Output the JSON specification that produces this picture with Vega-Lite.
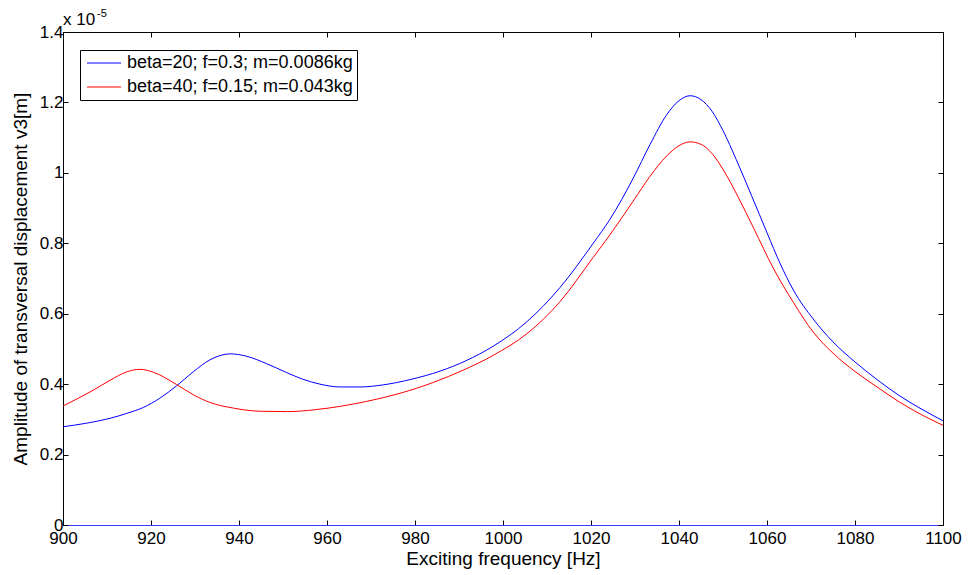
{
  "$schema": "https://vega.github.io/schema/vega-lite/v6.json",
  "autosize": "none",
  "width": 880,
  "height": 493,
  "padding": {"left": 63, "top": 32, "right": 25, "bottom": 50},
  "background": "white",
  "config": {
    "font": "Liberation Sans",
    "view": {"stroke": "black", "strokeWidth": 1},
    "axis": {"grid": false, "labelFont": "Liberation Sans", "titleFont": "Liberation Sans", "labelFontSize": 17, "titleFontSize": 19, "labelColor": "black", "titleColor": "black", "titleFontWeight": "normal", "domainColor": "black", "tickColor": "black"}
  },
  "datasets": {
    "curves": [
      {"f": 900, "amp": 0.279, "series": "beta=20; f=0.3; m=0.0086kg"},
      {"f": 905.3, "amp": 0.289, "series": "beta=20; f=0.3; m=0.0086kg"},
      {"f": 910.7, "amp": 0.303, "series": "beta=20; f=0.3; m=0.0086kg"},
      {"f": 914.5, "amp": 0.317, "series": "beta=20; f=0.3; m=0.0086kg"},
      {"f": 918.3, "amp": 0.334, "series": "beta=20; f=0.3; m=0.0086kg"},
      {"f": 922, "amp": 0.36, "series": "beta=20; f=0.3; m=0.0086kg"},
      {"f": 925.8, "amp": 0.395, "series": "beta=20; f=0.3; m=0.0086kg"},
      {"f": 929.6, "amp": 0.435, "series": "beta=20; f=0.3; m=0.0086kg"},
      {"f": 933.4, "amp": 0.469, "series": "beta=20; f=0.3; m=0.0086kg"},
      {"f": 938, "amp": 0.486, "series": "beta=20; f=0.3; m=0.0086kg"},
      {"f": 941.8, "amp": 0.479, "series": "beta=20; f=0.3; m=0.0086kg"},
      {"f": 946.3, "amp": 0.458, "series": "beta=20; f=0.3; m=0.0086kg"},
      {"f": 950.8, "amp": 0.433, "series": "beta=20; f=0.3; m=0.0086kg"},
      {"f": 954.5, "amp": 0.414, "series": "beta=20; f=0.3; m=0.0086kg"},
      {"f": 958.4, "amp": 0.400, "series": "beta=20; f=0.3; m=0.0086kg"},
      {"f": 963, "amp": 0.392, "series": "beta=20; f=0.3; m=0.0086kg"},
      {"f": 967.5, "amp": 0.392, "series": "beta=20; f=0.3; m=0.0086kg"},
      {"f": 972.8, "amp": 0.398, "series": "beta=20; f=0.3; m=0.0086kg"},
      {"f": 978.9, "amp": 0.413, "series": "beta=20; f=0.3; m=0.0086kg"},
      {"f": 985.7, "amp": 0.437, "series": "beta=20; f=0.3; m=0.0086kg"},
      {"f": 991.5, "amp": 0.466, "series": "beta=20; f=0.3; m=0.0086kg"},
      {"f": 997.8, "amp": 0.508, "series": "beta=20; f=0.3; m=0.0086kg"},
      {"f": 1005.4, "amp": 0.577, "series": "beta=20; f=0.3; m=0.0086kg"},
      {"f": 1013, "amp": 0.675, "series": "beta=20; f=0.3; m=0.0086kg"},
      {"f": 1020.5, "amp": 0.8, "series": "beta=20; f=0.3; m=0.0086kg"},
      {"f": 1024.3, "amp": 0.868, "series": "beta=20; f=0.3; m=0.0086kg"},
      {"f": 1029.6, "amp": 0.985, "series": "beta=20; f=0.3; m=0.0086kg"},
      {"f": 1033.4, "amp": 1.08, "series": "beta=20; f=0.3; m=0.0086kg"},
      {"f": 1037.2, "amp": 1.165, "series": "beta=20; f=0.3; m=0.0086kg"},
      {"f": 1040, "amp": 1.205, "series": "beta=20; f=0.3; m=0.0086kg"},
      {"f": 1042.5, "amp": 1.219, "series": "beta=20; f=0.3; m=0.0086kg"},
      {"f": 1045, "amp": 1.208, "series": "beta=20; f=0.3; m=0.0086kg"},
      {"f": 1047.5, "amp": 1.175, "series": "beta=20; f=0.3; m=0.0086kg"},
      {"f": 1050, "amp": 1.12, "series": "beta=20; f=0.3; m=0.0086kg"},
      {"f": 1053, "amp": 1.038, "series": "beta=20; f=0.3; m=0.0086kg"},
      {"f": 1056.5, "amp": 0.935, "series": "beta=20; f=0.3; m=0.0086kg"},
      {"f": 1060, "amp": 0.83, "series": "beta=20; f=0.3; m=0.0086kg"},
      {"f": 1063, "amp": 0.742, "series": "beta=20; f=0.3; m=0.0086kg"},
      {"f": 1066, "amp": 0.667, "series": "beta=20; f=0.3; m=0.0086kg"},
      {"f": 1070.5, "amp": 0.585, "series": "beta=20; f=0.3; m=0.0086kg"},
      {"f": 1075, "amp": 0.52, "series": "beta=20; f=0.3; m=0.0086kg"},
      {"f": 1080, "amp": 0.463, "series": "beta=20; f=0.3; m=0.0086kg"},
      {"f": 1085, "amp": 0.413, "series": "beta=20; f=0.3; m=0.0086kg"},
      {"f": 1090, "amp": 0.368, "series": "beta=20; f=0.3; m=0.0086kg"},
      {"f": 1095, "amp": 0.33, "series": "beta=20; f=0.3; m=0.0086kg"},
      {"f": 1100, "amp": 0.296, "series": "beta=20; f=0.3; m=0.0086kg"},
      {"f": 900, "amp": 0.338, "series": "beta=40; f=0.15; m=0.043kg"},
      {"f": 906.9, "amp": 0.383, "series": "beta=40; f=0.15; m=0.043kg"},
      {"f": 910.7, "amp": 0.411, "series": "beta=40; f=0.15; m=0.043kg"},
      {"f": 914.5, "amp": 0.435, "series": "beta=40; f=0.15; m=0.043kg"},
      {"f": 917.5, "amp": 0.442, "series": "beta=40; f=0.15; m=0.043kg"},
      {"f": 920.5, "amp": 0.434, "series": "beta=40; f=0.15; m=0.043kg"},
      {"f": 925.8, "amp": 0.399, "series": "beta=40; f=0.15; m=0.043kg"},
      {"f": 929.6, "amp": 0.370, "series": "beta=40; f=0.15; m=0.043kg"},
      {"f": 933.4, "amp": 0.348, "series": "beta=40; f=0.15; m=0.043kg"},
      {"f": 938.7, "amp": 0.332, "series": "beta=40; f=0.15; m=0.043kg"},
      {"f": 944.8, "amp": 0.323, "series": "beta=40; f=0.15; m=0.043kg"},
      {"f": 951, "amp": 0.322, "series": "beta=40; f=0.15; m=0.043kg"},
      {"f": 957, "amp": 0.327, "series": "beta=40; f=0.15; m=0.043kg"},
      {"f": 963, "amp": 0.337, "series": "beta=40; f=0.15; m=0.043kg"},
      {"f": 969, "amp": 0.351, "series": "beta=40; f=0.15; m=0.043kg"},
      {"f": 976.6, "amp": 0.374, "series": "beta=40; f=0.15; m=0.043kg"},
      {"f": 984.2, "amp": 0.405, "series": "beta=40; f=0.15; m=0.043kg"},
      {"f": 991, "amp": 0.44, "series": "beta=40; f=0.15; m=0.043kg"},
      {"f": 997.8, "amp": 0.482, "series": "beta=40; f=0.15; m=0.043kg"},
      {"f": 1005.4, "amp": 0.543, "series": "beta=40; f=0.15; m=0.043kg"},
      {"f": 1013, "amp": 0.635, "series": "beta=40; f=0.15; m=0.043kg"},
      {"f": 1020.5, "amp": 0.76, "series": "beta=40; f=0.15; m=0.043kg"},
      {"f": 1024.3, "amp": 0.824, "series": "beta=40; f=0.15; m=0.043kg"},
      {"f": 1029.6, "amp": 0.92, "series": "beta=40; f=0.15; m=0.043kg"},
      {"f": 1033.4, "amp": 0.99, "series": "beta=40; f=0.15; m=0.043kg"},
      {"f": 1037.2, "amp": 1.048, "series": "beta=40; f=0.15; m=0.043kg"},
      {"f": 1040, "amp": 1.077, "series": "beta=40; f=0.15; m=0.043kg"},
      {"f": 1042.5, "amp": 1.088, "series": "beta=40; f=0.15; m=0.043kg"},
      {"f": 1045, "amp": 1.081, "series": "beta=40; f=0.15; m=0.043kg"},
      {"f": 1047.5, "amp": 1.055, "series": "beta=40; f=0.15; m=0.043kg"},
      {"f": 1050, "amp": 1.01, "series": "beta=40; f=0.15; m=0.043kg"},
      {"f": 1053.5, "amp": 0.93, "series": "beta=40; f=0.15; m=0.043kg"},
      {"f": 1057, "amp": 0.842, "series": "beta=40; f=0.15; m=0.043kg"},
      {"f": 1061.4, "amp": 0.73, "series": "beta=40; f=0.15; m=0.043kg"},
      {"f": 1066, "amp": 0.632, "series": "beta=40; f=0.15; m=0.043kg"},
      {"f": 1070.5, "amp": 0.548, "series": "beta=40; f=0.15; m=0.043kg"},
      {"f": 1075, "amp": 0.488, "series": "beta=40; f=0.15; m=0.043kg"},
      {"f": 1080, "amp": 0.436, "series": "beta=40; f=0.15; m=0.043kg"},
      {"f": 1085, "amp": 0.392, "series": "beta=40; f=0.15; m=0.043kg"},
      {"f": 1090, "amp": 0.350, "series": "beta=40; f=0.15; m=0.043kg"},
      {"f": 1095, "amp": 0.314, "series": "beta=40; f=0.15; m=0.043kg"},
      {"f": 1100, "amp": 0.283, "series": "beta=40; f=0.15; m=0.043kg"}
    ],
    "note": [{"t": "x 10", "e": "-5"}]
  },
  "resolve": {"axis": {"x": "independent", "y": "independent"}},
  "layer": [
    {
      "data": {"name": "curves"},
      "mark": {"type": "line", "strokeWidth": 1, "interpolate": "monotone", "clip": true},
      "encoding": {
        "x": {"field": "f", "type": "quantitative", "scale": {"domain": [900, 1100], "nice": false, "zero": false},
          "axis": {"title": "Exciting frequency [Hz]", "values": [900, 920, 940, 960, 980, 1000, 1020, 1040, 1060, 1080, 1100], "format": "d", "tickSize": -5, "labelPadding": 10, "titlePadding": 3, "domainColor": "#3a3aff", "labelFlush": false}},
        "y": {"field": "amp", "type": "quantitative", "scale": {"domain": [0, 1.4], "nice": false},
          "axis": {"title": "Amplitude of transversal displacement v3[m]", "values": [0, 0.2, 0.4, 0.6, 0.8, 1, 1.2, 1.4], "format": "~g", "tickSize": -5, "labelPadding": 5, "titlePadding": 9, "labelFlush": false}},
        "color": {"field": "series", "type": "nominal",
          "scale": {"domain": ["beta=20; f=0.3; m=0.0086kg", "beta=40; f=0.15; m=0.043kg"], "range": ["#0000ff", "#ff0000"]},
          "legend": {"title": null, "orient": "none", "legendX": 17, "legendY": 18, "strokeColor": "black", "fillColor": "white", "padding": 4, "cornerRadius": 0, "symbolType": "M-2,0H2", "symbolSize": 289, "symbolStrokeWidth": 1, "symbolOffset": 11, "labelOffset": 14, "labelFontSize": 18, "labelFont": "Liberation Sans", "labelColor": "black", "rowPadding": 6, "labelLimit": 400}}
      }
    },
    {
      "data": {"name": "curves"},
      "mark": {"type": "point", "opacity": 0},
      "encoding": {
        "x": {"field": "f", "type": "quantitative", "scale": {"domain": [900, 1100], "nice": false, "zero": false},
          "axis": {"orient": "top", "title": null, "labels": false, "domain": false, "values": [900, 920, 940, 960, 980, 1000, 1020, 1040, 1060, 1080, 1100], "tickSize": -5}},
        "y": {"field": "amp", "type": "quantitative", "scale": {"domain": [0, 1.4], "nice": false},
          "axis": {"orient": "right", "title": null, "labels": false, "domain": false, "values": [0, 0.2, 0.4, 0.6, 0.8, 1, 1.2, 1.4], "tickSize": -5}}
      }
    },
    {
      "data": {"name": "note"},
      "mark": {"type": "text", "align": "left", "baseline": "alphabetic", "fontSize": 17, "dy": -7, "dx": 0, "font": "Liberation Sans", "color": "black"},
      "encoding": {
        "x": {"datum": 900, "type": "quantitative", "axis": null},
        "y": {"datum": 1.4, "type": "quantitative", "axis": null},
        "text": {"field": "t"}
      }
    },
    {
      "data": {"name": "note"},
      "mark": {"type": "text", "align": "left", "baseline": "alphabetic", "fontSize": 11, "dy": -15, "dx": 34, "font": "Liberation Sans", "color": "black"},
      "encoding": {
        "x": {"datum": 900, "type": "quantitative", "axis": null},
        "y": {"datum": 1.4, "type": "quantitative", "axis": null},
        "text": {"field": "e"}
      }
    }
  ]
}
